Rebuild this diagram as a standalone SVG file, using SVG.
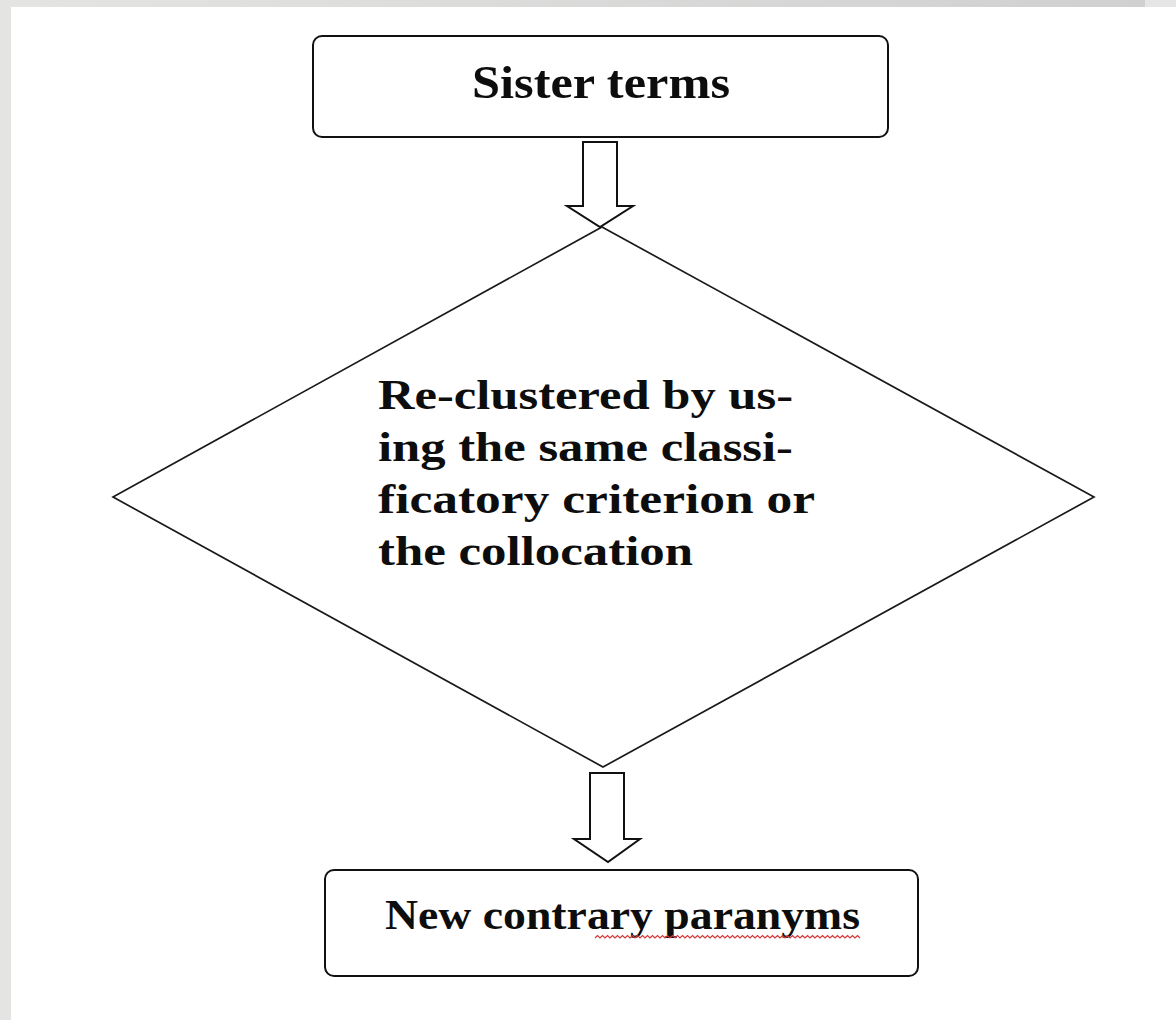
<svg xmlns="http://www.w3.org/2000/svg" width="1176" height="1020" viewBox="0 0 1176 1020">
  <defs>
    <linearGradient id="topband" x1="0" y1="0" x2="1" y2="0">
      <stop offset="0" stop-color="#e4e4e3"/>
      <stop offset="1" stop-color="#d0d0d0"/>
    </linearGradient>
    <style>
      .box { fill: #ffffff; stroke: #111111; stroke-width: 2; }
      .dia { fill: none; stroke: #1a1a1a; stroke-width: 1.7; }
      .arrow { fill: #ffffff; stroke: #111111; stroke-width: 2; stroke-linejoin: miter; }
      .lbl { font-family: "Liberation Serif", "Times New Roman", serif; font-weight: bold; font-size: 42px; fill: #0d0d0d; }
      .big { font-size: 47px; }
    </style>
  </defs>

  <rect x="0" y="0" width="1176" height="1020" fill="#ffffff"/>
  <rect x="0" y="0" width="1145" height="7" fill="url(#topband)"/>
  <rect x="1145" y="0" width="31" height="7" fill="#e6e6e6"/>
  <rect x="0" y="0" width="11" height="1020" fill="#e4e4e3"/>

  <g id="node-decision">
    <polygon class="dia" points="602,227 1094,497 603,767 113,497"/>
    <text class="lbl" x="378" y="409" textLength="415" lengthAdjust="spacingAndGlyphs">Re-clustered by us-</text>
    <text class="lbl" x="378" y="461" textLength="415" lengthAdjust="spacingAndGlyphs">ing the same classi-</text>
    <text class="lbl" x="378" y="513" textLength="437" lengthAdjust="spacingAndGlyphs">ficatory criterion or</text>
    <text class="lbl" x="378" y="565" textLength="315" lengthAdjust="spacingAndGlyphs">the collocation</text>
  </g>

  <g id="connectors">
    <polygon class="arrow" points="583,142 617,142 617,206 633,206 600,227 567,206 583,206"/>
    <polygon class="arrow" points="590,773 624,773 624,839 640,839 608,862 574,839 590,839"/>
  </g>

  <g id="node-sister-terms">
    <rect class="box" x="313" y="36" width="575" height="101" rx="9" ry="9"/>
    <text class="lbl big" x="472" y="98" textLength="258" lengthAdjust="spacingAndGlyphs">Sister terms</text>
  </g>

  <g id="node-new-paranyms">
    <rect class="box" x="325" y="870" width="593" height="106" rx="9" ry="9"/>
    <text class="lbl" x="385" y="929" textLength="475" lengthAdjust="spacingAndGlyphs">New contrary paranyms</text>
    <polyline fill="none" stroke="#d23a3a" stroke-width="1.2" points="595,938 597.5,935.5 600,938 602.5,935.5 605,938 607.5,935.5 610,938 612.5,935.5 615,938 617.5,935.5 620,938 622.5,935.5 625,938 627.5,935.5 630,938 632.5,935.5 635,938 637.5,935.5 640,938 642.5,935.5 645,938 647.5,935.5 650,938 652.5,935.5 655,938 657.5,935.5 660,938 662.5,935.5 665,938 667.5,935.5 670,938 672.5,935.5 675,938 677.5,935.5 680,938 682.5,935.5 685,938 687.5,935.5 690,938 692.5,935.5 695,938 697.5,935.5 700,938 702.5,935.5 705,938 707.5,935.5 710,938 712.5,935.5 715,938 717.5,935.5 720,938 722.5,935.5 725,938 727.5,935.5 730,938 732.5,935.5 735,938 737.5,935.5 740,938 742.5,935.5 745,938 747.5,935.5 750,938 752.5,935.5 755,938 757.5,935.5 760,938 762.5,935.5 765,938 767.5,935.5 770,938 772.5,935.5 775,938 777.5,935.5 780,938 782.5,935.5 785,938 787.5,935.5 790,938 792.5,935.5 795,938 797.5,935.5 800,938 802.5,935.5 805,938 807.5,935.5 810,938 812.5,935.5 815,938 817.5,935.5 820,938 822.5,935.5 825,938 827.5,935.5 830,938 832.5,935.5 835,938 837.5,935.5 840,938 842.5,935.5 845,938 847.5,935.5 850,938 852.5,935.5 855,938 857.5,935.5 860,938"/>
  </g>
</svg>
